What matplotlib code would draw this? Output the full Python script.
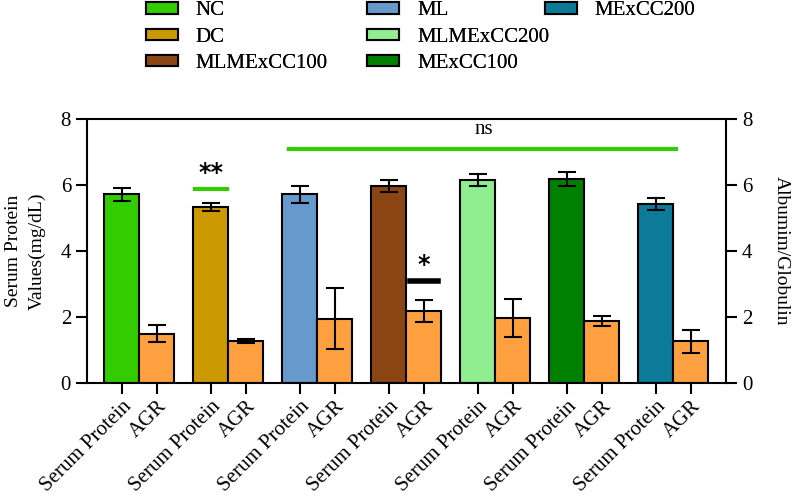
import numpy as np
import matplotlib.pyplot as plt
from matplotlib.patches import Patch

plt.rcParams['font.family'] = ['Liberation Serif', 'DejaVu Serif']

# groups and values
groups = ["NC", "DC", "ML", "MLMExCC100", "MLMExCC200", "MExCC100", "MExCC200"]
colors = ["#33cc00", "#cc9900", "#6699cc", "#8b4513", "#90ee90", "#008000", "#0b7b99"]
agr_color = "#ffa040"

serum = [5.72, 5.33, 5.72, 5.98, 6.15, 6.19, 5.42]
serum_err = [0.20, 0.12, 0.26, 0.18, 0.19, 0.21, 0.18]
agr = [1.49, 1.27, 1.95, 2.18, 1.97, 1.88, 1.26]
agr_err = [0.26, 0.06, 0.93, 0.34, 0.57, 0.16, 0.34]

tick_labels = ["Serum Protein", "AGR"]

# legend columns as laid out in the figure
legend_cols = [["NC", "DC", "MLMExCC100"],
               ["ML", "MLMExCC200", "MExCC100"],
               ["MExCC200"]]

fig = plt.figure(figsize=(7.93, 4.96), dpi=100)
ax = fig.add_axes([0.1097, 0.2278, 0.8058, 0.532])

step = 2.543
centers = np.arange(len(groups)) * step
sp_x = centers - 0.5
agr_x = centers + 0.5

err_kw = dict(ecolor="black", elinewidth=1.5, capsize=6.5, capthick=1.5)
ax.bar(sp_x, serum, width=1.0, color=colors, edgecolor="black", linewidth=1.5,
       yerr=serum_err, error_kw=err_kw, zorder=2)
ax.bar(agr_x, agr, width=1.0, color=agr_color, edgecolor="black", linewidth=1.5,
       yerr=agr_err, error_kw=err_kw, zorder=2)

ax.set_xlim(sp_x[0] - 1.0, agr_x[-1] + 1.0)
ax.set_ylim(0, 8)
ax.set_yticks([0, 2, 4, 6, 8])

xt = np.ravel(np.column_stack([sp_x, agr_x]))
ax.set_xticks(xt)
ax.set_xticklabels(tick_labels * len(groups), rotation=45, ha="right", va="top",
                   rotation_mode="anchor", fontsize=15)

for s in ax.spines.values():
    s.set_linewidth(1.5)
ax.spines["right"].set_visible(False)
ax.tick_params(axis="both", direction="out", length=8, width=1.5, labelsize=15)
ax.tick_params(axis="x", pad=2)
ax.set_ylabel("Serum Protein\nValues(mg/dL)", fontsize=14, linespacing=1.5)
ax.yaxis.label.set_va("center")
ax.yaxis.set_label_coords(-0.096, 0.5)

ax2 = ax.twinx()
ax2.set_ylim(0, 8)
ax2.set_yticks([0, 2, 4, 6, 8])
for s in ax2.spines.values():
    s.set_visible(False)
ax2.spines["right"].set_visible(True)
ax2.spines["right"].set_linewidth(1.5)
ax2.tick_params(axis="y", direction="out", length=8, width=1.5, labelsize=15)
ax2.set_ylabel("Albumim/Globulin", fontsize=14, rotation=270)
ax2.yaxis.label.set_va("center")
ax2.yaxis.set_label_coords(1.0861, 0.5)

# significance marks
green = "#33cc00"
ax.plot([sp_x[1] - 0.46, sp_x[1] + 0.46], [5.87, 5.87], color=green, lw=3)
ax.text(sp_x[1], 6.38, "**", ha="center", va="center", fontsize=17,
        family="DejaVu Sans", fontweight="bold")
ax.plot([sp_x[2] - 0.31, agr_x[6] - 0.44], [7.1, 7.1], color=green, lw=3)
ax.text(sp_x[4] + 0.17, 7.7, "ns", ha="center", va="center", fontsize=15)
ax.plot([agr_x[3] - 0.4, agr_x[3] + 0.4], [3.1, 3.1], color="black", lw=4)
ax.text(agr_x[3], 3.57, "*", ha="center", va="center", fontsize=17,
        family="DejaVu Sans", fontweight="bold")

color_of = dict(zip(groups, colors))
col_x = [0.184, 0.463, 0.687]
for cx, names in zip(col_x, legend_cols):
    hs = [Patch(facecolor=color_of[n], edgecolor="black", linewidth=1.5) for n in names]
    leg = fig.legend(hs, names, loc="upper left", bbox_to_anchor=(cx, 0.997),
                     frameon=False, fontsize=15, borderpad=0, borderaxespad=0,
                     handlelength=1.54, handleheight=0.48, labelspacing=0.35,
                     handletextpad=0.85)
    fig.add_artist(leg)

fig.savefig("out.png", dpi=100)
